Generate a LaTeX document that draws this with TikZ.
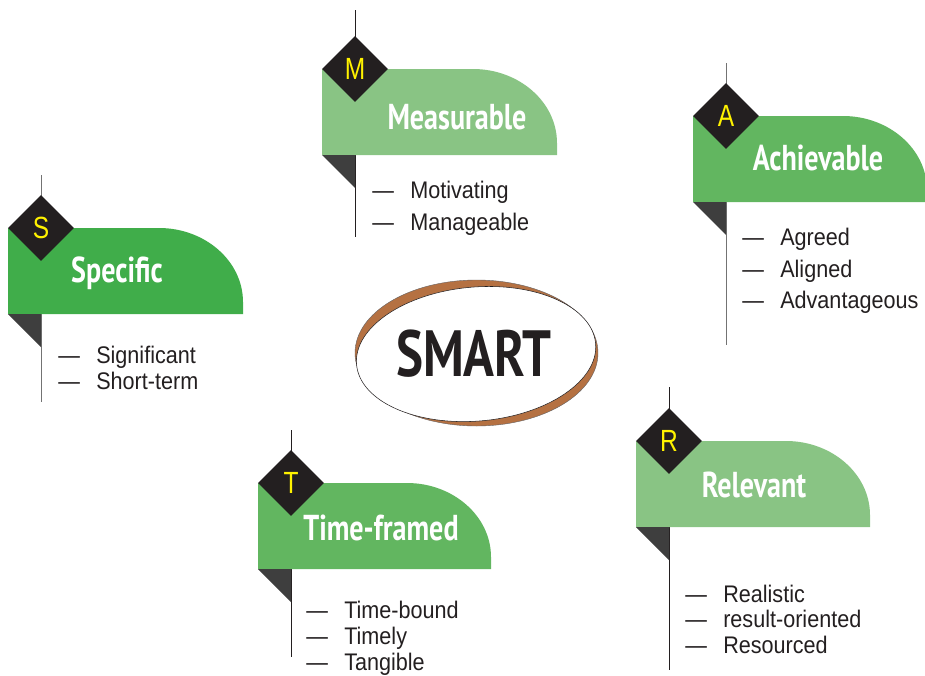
\documentclass[tikz,border=0pt]{standalone}
\usepackage{fontspec}
\usetikzlibrary{shapes.geometric}
\newfontfamily\headfont{PT Sans}[FakeStretch=0.78]
\newfontfamily\itemfont{Liberation Sans}[FakeStretch=0.9]
\newfontfamily\letterfont{Liberation Sans}[FakeStretch=0.8]

\definecolor{ink}{RGB}{35,31,32}
\definecolor{stemgray}{RGB}{115,115,115}
\definecolor{folddark}{RGB}{62,62,62}
\definecolor{greendeep}{RGB}{64,173,74}
\definecolor{greenmid}{RGB}{98,182,96}
\definecolor{greenlight}{RGB}{137,196,132}
\definecolor{letteryellow}{RGB}{255,242,0}
\definecolor{ringbrown}{RGB}{181,113,66}

\tikzset{
  stem/.style={line width=0.75pt},
  fold/.style={fill=folddark},
  gem/.style={shape=diamond, fill=ink, inner sep=0pt, aspect=1,
    minimum width=49.5pt, minimum height=49.5pt,
    text=letteryellow, font=\letterfont\fontsize{23}{26}\selectfont},
  flagtitle/.style={anchor=base, inner sep=0pt, text=white,
    font=\headfont\bfseries\fontsize{27}{30}\selectfont},
  item/.style={anchor=base west, inner sep=0pt, text=ink,
    font=\itemfont\fontsize{18}{20}\selectfont},
}

% one flag: #1 name, #2 stem x, #3 stem top, #4 stem bottom,
% #5 banner top, #6 banner right, #7 stem colour, #8 banner colour, #9 letter
\newcommand\goalflag[9]{%
  \coordinate (#1-top) at (#2,#3);
  \coordinate (#1-end) at (#2,#4);
  \draw[stem, draw=#7] (#1-top) -- (#1-end);
  \fill[#8] (#2-33,#5+86) -- (#2-33,#5) -- (#6-84,#5)
    .. controls (#6-38,#5) and (#6,#5+33) .. (#6,#5+74) -- (#6,#5+86) -- cycle;
  \fill[fold] (#2-33,#5+86) -- (#2,#5+86) -- (#2,#5+119) -- cycle;
  \node[gem] (#1-gem) at (#2,#5) {#9};
}
\newcommand\itemdash{\makebox[28.5pt][l]{—}}

\begin{document}
\begin{tikzpicture}[x=0.75pt,y=-0.75pt]
\useasboundingbox (0,0) rectangle (925,675);

% central ring
\coordinate (ring-c) at (476.5,353);
\filldraw[fill=ringbrown, draw=ink!70, line width=0.3pt] (ring-c) ellipse [x radius=121.5, y radius=73];
\filldraw[fill=white, draw=ink, line width=0.4pt, rotate around={5:(ring-c)}]
  (476,354) ellipse [x radius=120, y radius=67];
\node[inner sep=0pt, text=ink, font=\headfont\bfseries\fontsize{49}{52}\selectfont]
  (smart) at (474,354) {SMART};

% Specific
\goalflag{S}{41}{175}{402}{228}{243}{stemgray}{greendeep}{S}
\node[flagtitle] (S-title) at (117,282) {Specific};
\node[item] (S-i1) at (58,363) {\itemdash Significant};
\node[item] (S-i2) at (58,389) {\itemdash Short-term};

% Measurable
\goalflag{M}{355}{10}{237}{69}{557}{ink}{greenlight}{M}
\node[flagtitle] (M-title) at (457,129) {Measurable};
\node[item] (M-i1) at (372,198) {\itemdash Motivating};
\node[item] (M-i2) at (372,230) {\itemdash Manageable};

% Achievable
\goalflag{A}{726}{63}{345}{116}{927}{stemgray}{greenmid}{A}
\node[flagtitle] (A-title) at (818,170) {Achievable};
\node[item] (A-i1) at (742,245) {\itemdash Agreed};
\node[item] (A-i2) at (742,277) {\itemdash Aligned};
\node[item] (A-i3) at (742,308) {\itemdash Advantageous};

% Relevant
\goalflag{R}{669}{387}{670}{441}{870}{ink}{greenlight}{R}
\node[flagtitle] (R-title) at (754,497) {Relevant};
\node[item] (R-i1) at (685,602) {\itemdash Realistic};
\node[item] (R-i2) at (685,627) {\itemdash result-oriented};
\node[item] (R-i3) at (685,653) {\itemdash Resourced};

% Time-framed
\goalflag{T}{291}{430}{657}{483}{491}{ink}{greenmid}{T}
\node[flagtitle] (T-title) at (381,540) {Time-framed};
\node[item] (T-i1) at (306,618) {\itemdash Time-bound};
\node[item] (T-i2) at (306,644) {\itemdash Timely};
\node[item] (T-i3) at (306,670) {\itemdash Tangible};
\end{tikzpicture}
\end{document}
